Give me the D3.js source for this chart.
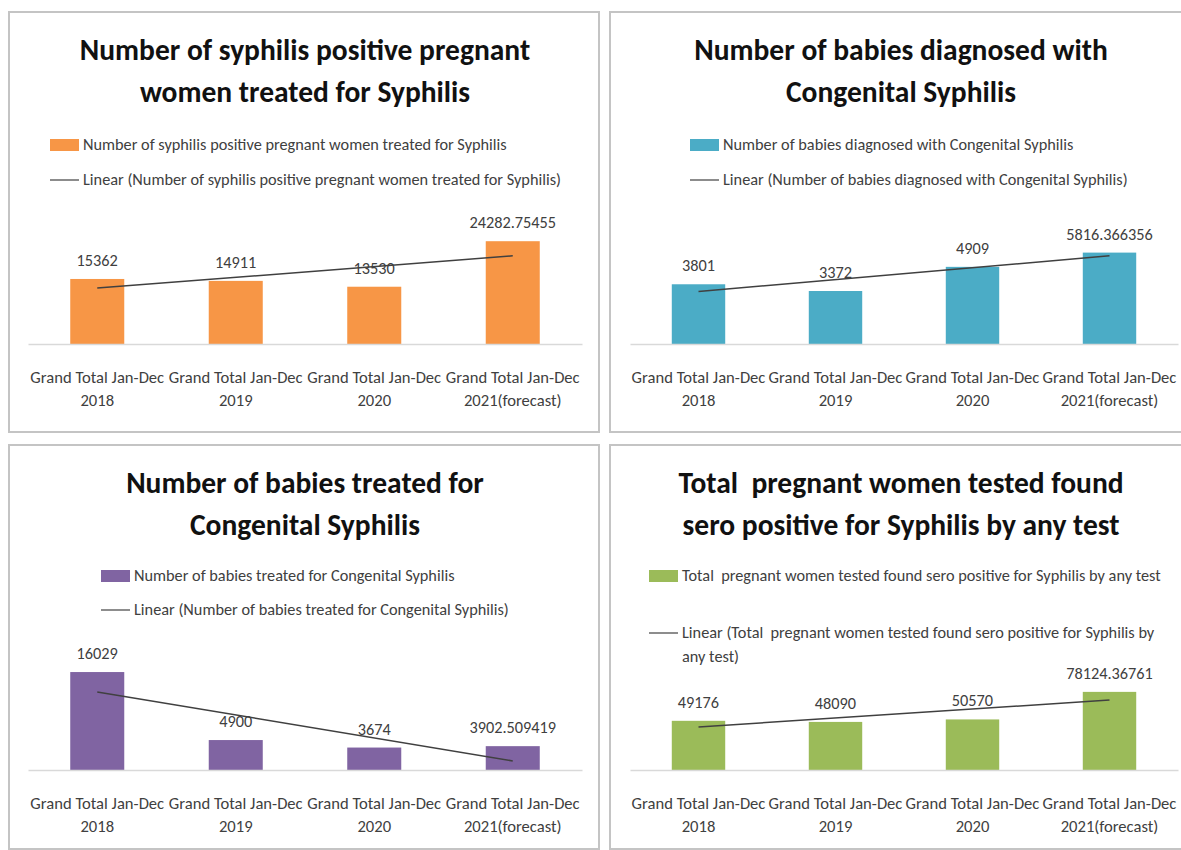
<!DOCTYPE html>
<html>
<head>
<meta charset="utf-8">
<script src="https://cdn.jsdelivr.net/npm/d3@7"></script>
<style>
  body { margin: 0; background: #fff; }
  svg text { font-family: Carlito, Lato, "Open Sans", sans-serif; }
</style>
</head>
<body>
<div id="svg"></div>
<script>
// categories (two line labels)
var categories = [
    ["Grand Total Jan-Dec", "2018"],
    ["Grand Total Jan-Dec", "2019"],
    ["Grand Total Jan-Dec", "2020"],
    ["Grand Total Jan-Dec", "2021(forecast)"]
];

// series values
var womenTreated = [15362, 14911, 13530, 24282.75455];
var babiesDiagnosed = [3801, 3372, 4909, 5816.366356];
var babiesTreated = [16029, 4900, 3674, 3902.509419];
var seroPositive = [49176, 48090, 50570, 78124.36761];

// value label text as shown
var womenTreatedLabels = ["15362", "14911", "13530", "24282.75455"];
var babiesDiagnosedLabels = ["3801", "3372", "4909", "5816.366356"];
var babiesTreatedLabels = ["16029", "4900", "3674", "3902.509419"];
var seroPositiveLabels = ["49176", "48090", "50570", "78124.36761"];

// titles and legend names
var titles = [
    ["Number of syphilis positive pregnant", "women treated for Syphilis"],
    ["Number of babies diagnosed with", "Congenital Syphilis"],
    ["Number of babies treated for", "Congenital Syphilis"],
    ["Total  pregnant women tested found", "sero positive for Syphilis by any test"]
];
var seriesNames = [
    "Number of syphilis positive pregnant women treated for Syphilis",
    "Number of babies diagnosed with Congenital Syphilis",
    "Number of babies treated for Congenital Syphilis",
    "Total  pregnant women tested found sero positive for Syphilis by any test"
];
var trendNames = [
    ["Linear (Number of syphilis positive pregnant women treated for Syphilis)"],
    ["Linear (Number of babies diagnosed with Congenital Syphilis)"],
    ["Linear (Number of babies treated for Congenital Syphilis)"],
    ["Linear (Total  pregnant women tested found sero positive for Syphilis by", "any test)"]
];
// hidden value axis maximum for each chart
var axisMax = [30000, 7000, 18000, 90000];

var colors = ["#F79646", "#4BACC6", "#8064A2", "#9BBB59"];

let width = 1181, height = 850;

let svg = d3.select("#svg").append("svg")
    .attr("width", width)
    .attr("height", height);

// layout of each chart box
var panels = [
    {x: 9, y: 12, w: 590, h: 420, titleX: 305, titleY: 50, legX: 50, legY: 145, lineY: 180,
        plotL: 28, plotR: 582, base: 344, plotH: 127},
    {x: 610, y: 12, w: 572, h: 420, titleX: 901, titleY: 50, legX: 690, legY: 145, lineY: 180,
        plotL: 630, plotR: 1178, base: 344, plotH: 110},
    {x: 9, y: 445, w: 590, h: 404, titleX: 305, titleY: 483, legX: 101, legY: 576, lineY: 610,
        plotL: 28, plotR: 582, base: 770, plotH: 110},
    {x: 610, y: 445, w: 572, h: 404, titleX: 901, titleY: 483, legX: 649, legY: 576, lineY: 633,
        plotL: 630, plotR: 1178, base: 770, plotH: 90}
];

var allValues = [womenTreated, babiesDiagnosed, babiesTreated, seroPositive];
var allLabels = [womenTreatedLabels, babiesDiagnosedLabels, babiesTreatedLabels, seroPositiveLabels];

// least squares linear trend (as Excel's linear trendline)
function linearFit(vals) {
    let xs = vals.map((d, i) => i + 1),
        mx = d3.mean(xs),
        my = d3.mean(vals),
        sxy = d3.sum(xs, (x, i) => (x - mx) * (vals[i] - my)),
        sxx = d3.sum(xs, x => (x - mx) * (x - mx)),
        slope = sxy / sxx,
        icpt = my - slope * mx;
    return xs.map(x => icpt + slope * x);
}

panels.forEach(function(p, k) {
    let g = svg.append("g");
    let values = allValues[k];

    // chart border
    g.append("rect")
        .attr("x", p.x).attr("y", p.y)
        .attr("width", p.w).attr("height", p.h)
        .attr("fill", "#fff")
        .attr("stroke", "#c4c4c4")
        .attr("stroke-width", 2);

    // title
    g.append("text")
        .attr("text-anchor", "middle")
        .attr("font-size", 29.5)
        .attr("font-weight", "bold")
        .attr("fill", "#111")
        .style("white-space", "pre")
        .selectAll("tspan")
        .data(titles[k])
        .join("tspan")
        .attr("x", p.titleX)
        .attr("y", (d, i) => p.titleY + 10 + i * 42)
        .text(d => d);

    // legend
    let leg = g.append("g");
    leg.append("rect")
        .attr("x", p.legX).attr("y", p.legY - 6)
        .attr("width", 29).attr("height", 12)
        .attr("fill", colors[k]);
    leg.append("text")
        .attr("x", p.legX + 33).attr("y", p.legY + 5)
        .attr("font-size", 16.3)
        .attr("fill", "#404040")
        .style("white-space", "pre")
        .text(seriesNames[k]);
    leg.append("line")
        .attr("x1", p.legX).attr("x2", p.legX + 29)
        .attr("y1", p.lineY).attr("y2", p.lineY)
        .attr("stroke", "#404040")
        .attr("stroke-width", 1.2);
    leg.append("text")
        .attr("font-size", 16.3)
        .attr("fill", "#404040")
        .style("white-space", "pre")
        .selectAll("tspan")
        .data(trendNames[k])
        .join("tspan")
        .attr("x", p.legX + 33)
        .attr("y", (d, i) => p.lineY + 5 + i * 24)
        .text(d => d);

    // scales
    let x = d3.scaleBand()
        .domain(d3.range(categories.length))
        .range([p.plotL, p.plotR])
        .paddingInner(0.61)
        .paddingOuter(0.305);
    let y = d3.scaleLinear()
        .domain([0, axisMax[k]])
        .range([p.base, p.base - p.plotH]);

    // bars
    g.append("g")
        .selectAll("rect")
        .data(values)
        .join("rect")
        .attr("x", (d, i) => x(i))
        .attr("y", d => y(d))
        .attr("width", x.bandwidth())
        .attr("height", d => y(0) - y(d))
        .attr("fill", colors[k]);

    // category axis
    let xAxis = d3.axisBottom(x)
        .tickSize(0)
        .tickFormat("");
    let ax = g.append("g")
        .attr("transform", "translate(0," + p.base + ")")
        .call(xAxis);
    ax.select(".domain").attr("stroke", "#d9d9d9").attr("stroke-width", 1.5);

    g.append("g")
        .selectAll("text")
        .data(categories)
        .join("text")
        .attr("text-anchor", "middle")
        .attr("font-size", 16.6)
        .attr("fill", "#404040")
        .selectAll("tspan")
        .data((d, i) => d.map(s => ({s: s, i: i})))
        .join("tspan")
        .attr("x", d => x(d.i) + x.bandwidth() / 2)
        .attr("y", (d, j) => p.base + 39 + j * 23)
        .text(d => d.s);

    // trend line, from first to last category
    let fit = linearFit(values);
    g.append("path")
        .datum([fit[0], fit[fit.length - 1]])
        .attr("d", d3.line()
            .x((d, i) => x(i * (values.length - 1)) + x.bandwidth() / 2)
            .y(d => y(d)))
        .attr("fill", "none")
        .attr("stroke", "#404040")
        .attr("stroke-width", 1.5);

    // value labels
    g.append("g")
        .selectAll("text")
        .data(values)
        .join("text")
        .attr("x", (d, i) => x(i) + x.bandwidth() / 2)
        .attr("y", d => y(d) - 13)
        .attr("text-anchor", "middle")
        .attr("font-size", 16.3)
        .attr("fill", "#404040")
        .text((d, i) => allLabels[k][i]);
});
</script>
</body>
</html>
